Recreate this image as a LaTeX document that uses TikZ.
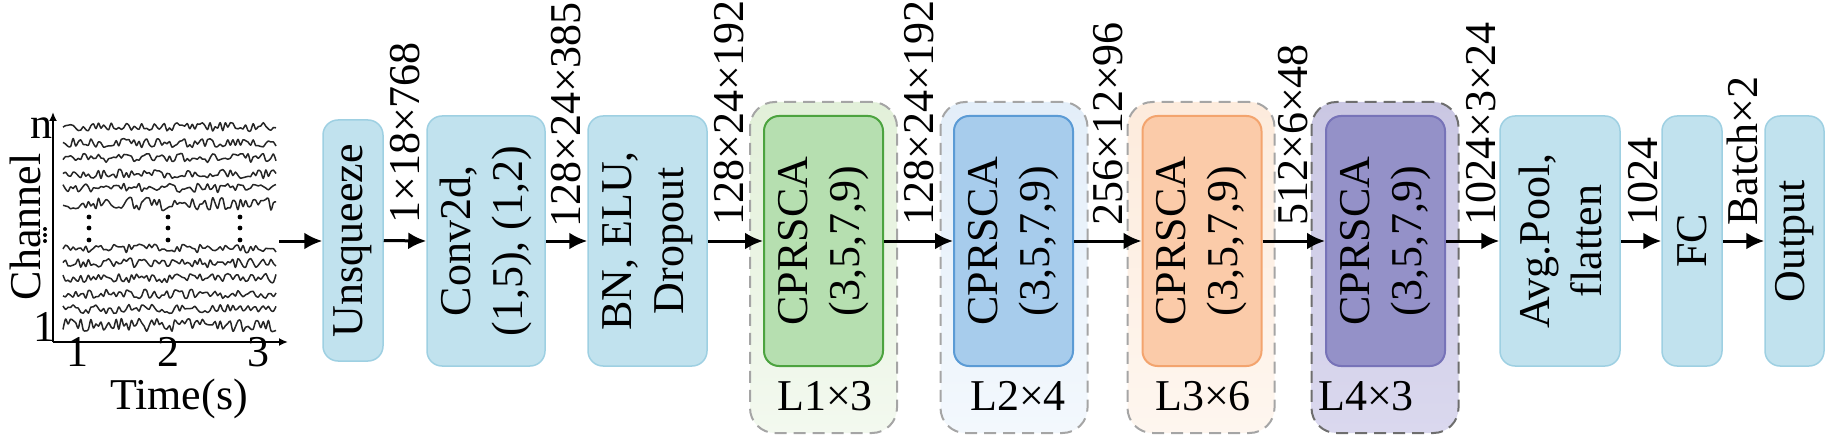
\documentclass[tikz,border=0pt]{standalone}
\usepackage{fontspec}
\setmainfont{Liberation Serif}
\usetikzlibrary{arrows.meta}
\definecolor{boxfill}{HTML}{C1E2EE}
\definecolor{boxline}{HTML}{9ED0E2}
\definecolor{gIn}{HTML}{B6DFB0}
\definecolor{gLine}{HTML}{4CA33F}
\definecolor{gTop}{HTML}{E2F0D9}
\definecolor{gBot}{HTML}{F3F9EF}
\definecolor{bIn}{HTML}{A7CCEC}
\definecolor{bLine}{HTML}{5B9BD5}
\definecolor{bTop}{HTML}{E3EEF9}
\definecolor{bBot}{HTML}{F3F8FD}
\definecolor{oIn}{HTML}{FBCBA9}
\definecolor{oLine}{HTML}{F3A46E}
\definecolor{oTop}{HTML}{FDEBDC}
\definecolor{oBot}{HTML}{FEF6EF}
\definecolor{pIn}{HTML}{9491C8}
\definecolor{pLine}{HTML}{7773B8}
\definecolor{pTop}{HTML}{CAC7E3}
\definecolor{pBot}{HTML}{DAD8EE}
\definecolor{dashgray}{HTML}{A5A5A5}
\definecolor{dashdark}{HTML}{6E6E6E}
\definecolor{tracecol}{HTML}{262626}
\begin{document}
\begin{tikzpicture}[x=1pt,y=-1pt,
  font=\fontsize{44}{52}\selectfont,
  bbox/.style={draw=boxline, fill=boxfill, line width=1.5pt, rounded corners=15pt, minimum height=250pt, inner sep=0pt},
  inbox/.style={line width=2pt, rounded corners=15pt, minimum width=119pt, minimum height=250pt, inner sep=0pt},
  outbox/.style={line width=2pt, dash pattern=on 12pt off 7pt, rounded corners=25pt, minimum width=147pt, minimum height=331pt, inner sep=0pt},
  vtext/.style={rotate=90, align=center, inner sep=0pt},
  dimlabel/.style={rotate=90, anchor=west, inner sep=0pt},
  arr/.style={line width=3pt, -{Latex[length=18pt,width=17pt]}},
  axis/.style={line width=2pt, -{Latex[length=9pt,width=8pt]}},
  trace/.style={draw=tracecol, line width=1.5pt, line join=round}
]
\useasboundingbox (0,0) rectangle (1831,441);

% ---------- EEG plot ----------
\coordinate (orig) at (53,342);
\coordinate (ytip) at (53,112);
\coordinate (xtip) at (288,342);
\draw[axis] (orig) -- (ytip);
\draw[axis] (orig) -- (xtip);
\pgfmathsetseed{11}
\foreach \yy/\aa in {127/4.5,143/4.5,158/4.5,174/4.5,188/4.5,204/6.5,248/4.5,263/4.5,278/4.5,294/4.5,309/4.5,325/6.5}{
  \draw[trace] plot[domain=63:276, samples=85, smooth, tension=0.5] (\x, {\yy + \aa*rand});
}
\foreach \xx in {89,168,240}{
  \foreach \yy in {217,228,240}{
    \fill (\xx,\yy) circle (2.4pt);
  }
}
\foreach \yy in {229,235,241}{
  \fill (45,\yy) circle (2pt);
}
\node[inner sep=0pt] (nlab) at (41,128) {n};
\node[inner sep=0pt] (onelab) at (44,327) {1};
\node[rotate=90, inner sep=0pt] (chan) at (25,227) {Channel};
\node[inner sep=0pt] (t1) at (77,352) {1};
\node[inner sep=0pt] (t2) at (168,352) {2};
\node[inner sep=0pt] (t3) at (258,352) {3};
\node[inner sep=0pt] (time) at (179,399) {Time(s)};
\coordinate (plotout) at (279,241);

% ---------- plain boxes ----------
\node[bbox, minimum width=60pt, minimum height=241pt] (unsq) at (353,240.5) {};
\node[vtext] at (unsq.center) {Unsqueeze};
\node[bbox, minimum width=118pt] (conv) at (486,241) {};
\node[vtext] at (conv.center) {Conv2d,\\(1,5), (1,2)};
\node[bbox, minimum width=119pt] (bn) at (647.5,241) {};
\node[vtext] at (bn.center) {BN, ELU,\\Dropout};

% ---------- CPRSCA stages ----------
\node[outbox, draw=dashgray, top color=gTop, bottom color=gBot] (g1out) at (823.5,267.5) {};
\node[inbox, draw=gLine, fill=gIn] (g1) at (823.5,241) {};
\node[vtext] at (g1.center) {CPRSCA\\(3,5,7,9)};
\node[inner sep=0pt] (l1) at (825,396) {L1×3};

\node[outbox, draw=dashgray, top color=bTop, bottom color=bBot] (g2out) at (1014,267.5) {};
\node[inbox, draw=bLine, fill=bIn] (g2) at (1013.5,241) {};
\node[vtext] at (g2.center) {CPRSCA\\(3,5,7,9)};
\node[inner sep=0pt] (l2) at (1018,396) {L2×4};

\node[outbox, draw=dashgray, top color=oTop, bottom color=oBot] (g3out) at (1201,267.5) {};
\node[inbox, draw=oLine, fill=oIn] (g3) at (1202,241) {};
\node[vtext] at (g3.center) {CPRSCA\\(3,5,7,9)};
\node[inner sep=0pt] (l3) at (1203,396) {L3×6};

\node[outbox, draw=dashdark, top color=pTop, bottom color=pBot] (g4out) at (1385,267.5) {};
\node[inbox, draw=pLine, fill=pIn] (g4) at (1385.5,241) {};
\node[vtext] at (g4.center) {CPRSCA\\(3,5,7,9)};
\node[inner sep=0pt] (l4) at (1366,396) {L4×3};

% ---------- tail boxes ----------
\node[bbox, minimum width=120pt] (avg) at (1560,241) {};
\node[vtext] at (avg.center) {Avg.Pool,\\flatten};
\node[bbox, minimum width=60pt] (fc) at (1692,241) {};
\node[vtext] at (fc.center) {FC};
\node[bbox, minimum width=59pt] (outp) at (1794.5,241) {};
\node[vtext] at (outp.center) {Output};

% ---------- arrows ----------
\draw[arr] (plotout) -- (unsq.west |- plotout);
\draw[arr] (unsq.east) -- (conv.west);
\draw[arr] (conv.east) -- (bn.west);
\draw[arr] (bn.east) -- (g1.west);
\draw[arr] (g1.east) -- (g2.west);
\draw[arr] (g2.east) -- (g3.west);
\draw[arr] (g3.east) -- (g4.west);
\draw[arr] (g4.east) -- (avg.west);
\draw[arr] (avg.east) -- (fc.west);
\draw[arr] (fc.east) -- (outp.west);

% ---------- dimension labels ----------
\node[dimlabel] (d1) at (405,224) {1×18×768};
\node[dimlabel] (d2) at (566,228) {128×24×385};
\node[dimlabel] (d3) at (729,226) {128×24×192};
\node[dimlabel] (d4) at (919,226) {128×24×192};
\node[dimlabel] (d5) at (1108,226) {256×12×96};
\node[dimlabel] (d6) at (1293,226) {512×6×48};
\node[dimlabel] (d7) at (1481,226) {1024×3×24};
\node[dimlabel] (d8) at (1643,226) {1024};
\node[dimlabel] (d9) at (1742,226) {Batch×2};
\end{tikzpicture}
\end{document}
